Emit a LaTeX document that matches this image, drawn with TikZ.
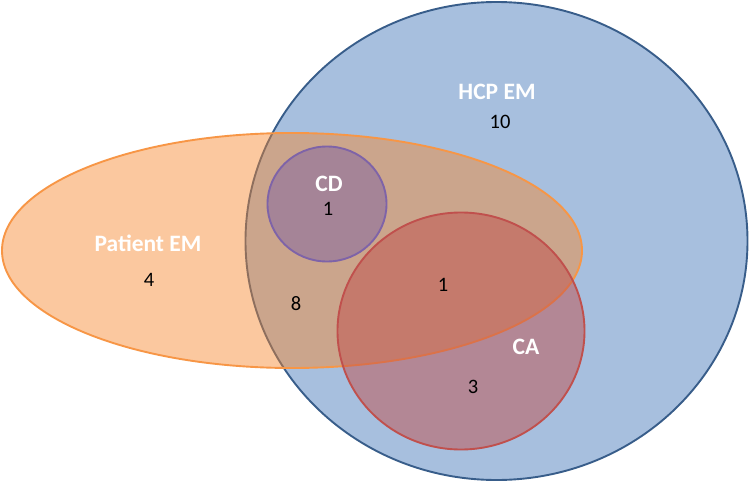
\documentclass[tikz,border=0pt]{standalone}
\usepackage{fontspec}
\setmainfont{Carlito}
\definecolor{hcpfill}{HTML}{A7BFDE}
\definecolor{hcpline}{HTML}{385D8A}
\definecolor{patfill}{HTML}{F7862A}
\definecolor{patline}{HTML}{F79646}
\definecolor{cdfill}{HTML}{8064A2}
\definecolor{cdline}{HTML}{7E63A8}
\definecolor{cafill}{HTML}{C0504D}
\definecolor{caline}{HTML}{C0504D}
\tikzset{
  setlabel/.style={text=white, font=\fontsize{23.5}{25}\selectfont\bfseries, inner sep=0pt},
  countlabel/.style={text=black, font=\fontsize{20.5}{22}\selectfont, inner sep=0pt},
  setline/.style={line width=1.9pt}
}
\begin{document}
\begin{tikzpicture}[x=1pt,y=-1pt]
\useasboundingbox (0,0) rectangle (750,482);
% HCP EM
\draw[setline, draw=hcpline, fill=hcpfill] (496.5,241) ellipse [x radius=251, y radius=239];
% Patient EM
\draw[setline, draw=patline, fill=patfill, fill opacity=0.45] (292,250.5) ellipse [x radius=290, y radius=117.5];
% CD
\draw[setline, draw=cdline, fill=cdfill, fill opacity=0.5] (327,204) ellipse [x radius=59.5, y radius=57.5];
% CA
\draw[setline, draw=caline, fill=cafill, fill opacity=0.5] (461,331) ellipse [x radius=123.5, y radius=118.5];
% labels
\node[setlabel] (hcp) at (497,92) {HCP EM};
\node[countlabel] (hcpn) at (500,122) {10};
\node[setlabel] (pat) at (148,243) {Patient EM};
\node[countlabel] (patn) at (149,280) {4};
\node[setlabel] (cd) at (329,184) {CD};
\node[countlabel] (cdn) at (328,209) {1};
\node[countlabel] (mid) at (443,285) {1};
\node[countlabel] (eight) at (296,304) {8};
\node[setlabel] (ca) at (526,347) {CA};
\node[countlabel] (can) at (473,387) {3};
\end{tikzpicture}
\end{document}
